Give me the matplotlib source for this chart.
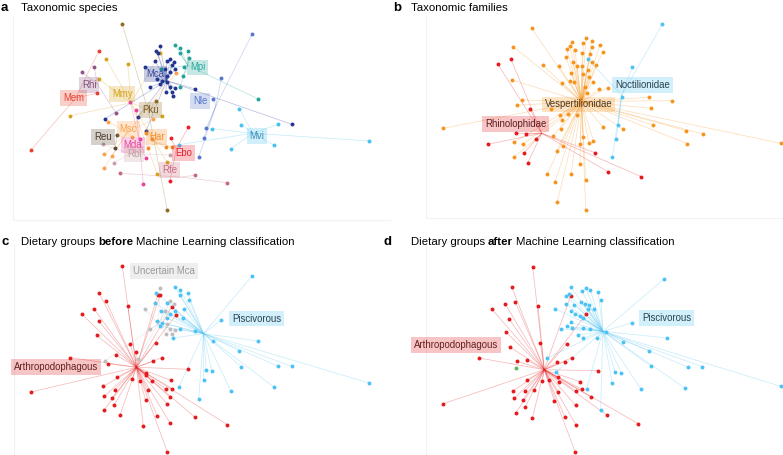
import numpy as np
import matplotlib
matplotlib.use('Agg')
import matplotlib.pyplot as plt
from matplotlib.collections import LineCollection
from matplotlib.colors import to_rgba

plt.rcParams['font.family'] = ['Liberation Sans', 'DejaVu Sans']

# ordination scores (arbitrary units, y grows downward)
# panels a and c share the same samples
a_x = [99, 31, 96.7,                                             # Mem
       81.7, 94.3, 115.7,                                        # Rhi
       106, 127.7, 99, 70.3, 161.7, 166.7, 157.3, 160,           # Mmy
       122.3, 155.7, 167.3,                                      # Pku
       160, 156.3, 157.7, 155, 145, 166.7, 170.3, 174.3, 171.7, 164.7,
       170, 175, 166.7, 156.7, 162.3, 160, 150, 167.3, 170, 175,
       171.7, 166, 173.3, 195.3, 104.7, 137.7, 146, 291.7,       # Mca
       175, 180.3, 180.3, 187.7, 189.3, 183.7, 182.7, 179.7, 160.7, 258.3,  # Mpi
       252.3, 221.3, 213.3, 206.3, 203.7, 198.7,                 # Nle
       239.3, 241, 278.3, 274.3, 230.7, 369.3, 211.7, 179,       # Mvi
       117.3, 115,                                               # Reu
       108.3, 104.3, 112, 104.3, 132, 176, 153.3,                # Msc
       145.7, 152.3, 148, 166, 172.3,                            # Har
       136, 130.3, 143.3, 139.5, 145.7,                          # Mda
       103.3, 114.3, 170,                                        # Rbl
       188.3, 170.7, 170,                                        # Ebo
       120, 195, 227.3]                                          # Rfe
a_y = [50.7, 150, 93.3,
       72, 67.3, 112.7,
       59, 63.7, 79.3, 115.7, 115.7, 161.7, 174, 53.3,
       24.3, 100.7, 210,
       46, 50.7, 52.7, 61, 67.3, 61, 59.3, 61.7, 65, 69,
       71.7, 69.3, 76, 79.3, 80.7, 84.3, 87, 81.7, 86.7, 88.3,
       91.7, 91.7, 96, 89, 119, 117.3, 131, 124.3,
       45.3, 47.7, 53.3, 51.3, 58.3, 66.7, 76, 87.3, 69, 99,
       33.7, 78, 99.3, 128.3, 138, 157.3,
       108.7, 124.7, 124.3, 145.3, 148.7, 141, 128.7, 144.7,
       135, 147.7,
       121.7, 154.3, 156, 167.7, 137.3, 73, 119.3,
       132.7, 139.3, 148, 147.3, 146.7,
       110, 102, 183.7, 139.3, 158.3,
       144.3, 162.7, 155,
       127.3, 138.3, 181,
       173.3, 175.3, 182.7]
a_species = (['Mem'] * 3 + ['Rhi'] * 3 + ['Mmy'] * 8 + ['Pku'] * 3 + ['Mca'] * 28
             + ['Mpi'] * 10 + ['Nle'] * 6 + ['Mvi'] * 8 + ['Reu'] * 2 + ['Msc'] * 7
             + ['Har'] * 5 + ['Mda'] * 5 + ['Rbl'] * 3 + ['Ebo'] * 3 + ['Rfe'] * 3)
# diet before ML: A arthropodophagous, P piscivorous, U uncertain Mca
c_diet = list('AAA' 'AAA' 'AAAAAAAA' 'AAA'
              'UPAPUPUUAUPPPPPPUUUUUUPPUUAP'
              'PPPPPPPPPP' 'PPPPPP' 'PPPPPPPP'
              'AA' 'AAAAAAA' 'AAAAA' 'AAAAA' 'AAA' 'AAA' 'AAA')

# panel b: families
b_x = [196, 201.7, 181.7, 193.3, 180, 210, 201.7, 176.7, 185, 212.7, 192.3, 200,
       176, 182.7, 186.7, 191.7, 201.7, 206, 152.7, 168.7, 197.7, 181, 193.3, 199,
       202.7, 180, 184.3, 171.7, 195.3, 217.7, 209, 196.7, 131.7, 161, 170,
       141.7, 123.3, 122.3, 127, 53.3, 124.3, 133, 124.3, 157.3, 165, 167.3, 195.7,
       181, 190, 195.7, 190.3, 193.3, 198.7, 203.3, 173.3, 166.7, 163.3, 171, 172,
       178.3, 186.7, 212.7, 233.3, 259.3, 281.7, 260.7, 262.7, 296, 313.3, 297.3, 390.7,
       107.7, 121, 140, 126, 136, 145.7, 97.7, 134.3, 137.7, 205, 218, 251.3,
       272.3, 242.3, 232, 228.3, 226.3, 222.3, 197.7]
b_y = [38.3, 41, 41.7, 43.3, 46, 45, 46.7, 49.3, 50, 51.7, 53.3, 54.3,
       57.3, 62.3, 65.7, 65.7, 61.7, 65, 65, 65.7, 70, 73.3, 74, 77.3,
       81.7, 80.7, 82.3, 82.7, 86.7, 87.7, 89.3, 92.7, 100, 109.3, 115,
       28.3, 46.7, 80, 105.3, 128.3, 142, 144, 156.7, 174, 182.3, 202, 210,
       174, 164, 180, 144, 137.3, 143.3, 140.7, 145.7, 150.7, 135.7, 128.7, 120,
       114.3, 114.7, 126.7, 129.3, 97.3, 100.7, 108.3, 125, 130.7, 134, 143.7, 143.3,
       64, 59.3, 108.7, 133.3, 134.3, 138.7, 144.3, 152.7, 163, 152.7, 171.7, 176.7,
       24.3, 67, 96.5, 124.7, 138.7, 157.3, 59]
b_family = ['V'] * 71 + ['R'] * 12 + ['N'] * 7

# panel d: diet after ML
d_x = [142.7, 121.7, 125.3, 101.7, 115.3, 148, 119.3, 116, 150.3, 120, 89.3, 126.7,
       137.3, 176.7, 167.3, 175, 181.7, 207.7, 137.3, 152.3, 159.3, 167.7, 169, 190,
       123.3, 135, 144.3, 168.3, 186, 191.7, 124, 132.7, 201, 164.3, 135, 126,
       142.3, 185.7, 175, 186, 216.7, 248.3, 185.3, 53.3, 180.7, 196,
       274.3, 181, 176, 178.7, 191.7, 196, 200.3, 208.3, 211, 176.3, 184.3, 190.7,
       195, 199.3, 165, 181, 185, 190, 198, 203.7, 193.3, 170.7, 177.3, 181.7,
       192.7, 200, 187.7, 193.3, 207.3, 216, 241.7, 277.3, 233.3, 259, 261, 298.3,
       312.3, 225.3, 231, 222.3, 251, 295, 390.7, 196.7, 210.7, 157.3, 165.7, 181,
       125.7]
d_y = [39.3, 59, 74, 81, 76, 77.7, 91.3, 104, 115.3, 119, 130, 133.3,
       132.3, 116, 134.3, 133.7, 129.7, 142.7, 152, 153, 152, 149.3, 154.3, 153.7,
       162.7, 163, 162, 163.7, 163, 161.3, 170.3, 172, 168.7, 172.7, 179.3, 184.7,
       190.3, 177.3, 189.3, 197, 187, 195.7, 224.3, 175.7, 67.7, 86.3,
       50.7, 59.3, 67.7, 66, 62.7, 60, 61.7, 64.3, 71.7, 76, 76.7, 74,
       76, 77.3, 80.7, 83.3, 86, 88.3, 81, 81, 90, 101, 98, 100,
       100, 101, 107, 110, 110, 104, 95, 110, 114.3, 122.7, 138.3, 139.3,
       138.7, 144.3, 144.7, 155.3, 161.3, 160, 158.3, 160.7, 181.7, 130, 144.3, 94.3,
       140]
d_diet = ['A'] * 46 + ['P'] * 48 + ['G']

# colours
sp_col = {'Mem': '#e8412f', 'Rhi': '#8e5585', 'Mmy': '#d8a31a', 'Pku': '#8f6a22',
          'Mca': '#233591', 'Mpi': '#22a398', 'Nle': '#5677cc', 'Mvi': '#47c1f2',
          'Reu': '#5d4630', 'Msc': '#f9a24a', 'Har': '#f58a22', 'Mda': '#e8449a',
          'Rbl': '#c8a0a6', 'Ebo': '#e8202a', 'Rfe': '#c86a7c'}
sp_txt = dict(sp_col, Mca='#3b4aa0', Mvi='#3f8fae', Rbl='#c0a0a0', Rhi='#84507a',
              Reu='#4b3a2a', Pku='#7e5d1e', Mpi='#2aa89c')
sp_nudge = {'Mem': (-2, 0), 'Rhi': (-8, 1), 'Mmy': (-9, -9), 'Pku': (2, -2),
            'Mca': (-11, -7), 'Mpi': (10, 2), 'Nle': (-16, -5), 'Mvi': (4, 3),
            'Reu': (-13, -4), 'Msc': (1, -4), 'Har': (0, -6), 'Mda': (-6, 6),
            'Rbl': (5, 0), 'Ebo': (7, 4), 'Rfe': (-11, -7)}

fam_col = {'V': '#f7941e', 'R': '#e41a1c', 'N': '#4cc3f4'}
fam_txt = {'V': '#4d3b25', 'R': '#5c1c1c', 'N': '#2a4250'}
fam_name = {'V': 'Vespertilionidae', 'R': 'Rhinolophidae', 'N': 'Noctilionidae'}
fam_nudge = {'V': (-3, 3), 'R': (-26, -9), 'N': (21, -10)}

diet_col = {'A': '#e41a1c', 'P': '#4cc3f4', 'U': '#bdbdbd', 'G': '#5cb85c'}
diet_txt = {'A': '#652020', 'P': '#2a4250', 'U': '#9a9a9a', 'G': '#3a7a3a'}
diet_name = {'A': 'Arthropodophagous', 'P': 'Piscivorous', 'U': 'Uncertain Mca', 'G': ''}
c_nudge = {'A': (-80, 0), 'P': (53, -15), 'U': (6, -53)}
d_nudge = {'A': (-88, -25), 'P': (64, -13)}

W, H = 783, 455
fig = plt.figure(figsize=(W / 100, H / 100), dpi=100)


def panel(x0, y0, x1, y1, xlim, ylim):
    ax = fig.add_axes([x0 / W, 1 - y1 / H, (x1 - x0) / W, (y1 - y0) / H])
    ax.set_xlim(*xlim)
    ax.set_ylim(*ylim)
    ax.set_xticks([])
    ax.set_yticks([])
    ax.spines['top'].set_visible(False)
    ax.spines['right'].set_visible(False)
    for s in ['left', 'bottom']:
        ax.spines[s].set_color('#f2f2f2')
        ax.spines[s].set_linewidth(0.8)
    ax.patch.set_alpha(0)
    return ax


def spider(ax, xs, ys, groups, colors, txtcolors, names, nudge):
    xs, ys, groups = np.asarray(xs), np.asarray(ys), np.asarray(groups)
    order = list(dict.fromkeys(groups))
    cents = {}
    for g in order:
        m = groups == g
        cx, cy = xs[m].mean(), ys[m].mean()
        cents[g] = (cx, cy)
        segs = [[(cx, cy), (x, y)] for x, y in zip(xs[m], ys[m])]
        ax.add_collection(LineCollection(segs, colors=colors[g], linewidths=0.55,
                                         alpha=0.3, zorder=1))
    for g in order:
        m = groups == g
        ax.scatter(xs[m], ys[m], s=8, color=colors[g], lw=0, zorder=2, clip_on=False)
    for g in order:
        if not names[g]:
            continue
        cx, cy = cents[g]
        dx, dy = nudge.get(g, (0, 0))
        ax.text(cx + dx, cy + dy, names[g], ha='center', va='center', fontsize=6.9,
                color=txtcolors[g], zorder=4,
                bbox=dict(boxstyle='square,pad=0.3', fc=to_rgba(colors[g], 0.25), ec='none'))


ax_a = panel(13, 17, 390, 220, (13, 390), (220, 17))
spider(ax_a, a_x, a_y, a_species, sp_col, sp_txt, {k: k for k in sp_col}, sp_nudge)

ax_b = panel(426, 17, 783, 218, (36, 393), (218, 17))
spider(ax_b, b_x, b_y, b_family, fam_col, fam_txt, fam_name, fam_nudge)

ax_c = panel(14, 245, 390, 455, (14, 390), (213, 3))
spider(ax_c, a_x, a_y, c_diet, diet_col, diet_txt, diet_name, c_nudge)

ax_d = panel(426, 245, 783, 455, (36, 393), (227, 17))
spider(ax_d, d_x, d_y, d_diet, diet_col, diet_txt, diet_name, d_nudge)

# panel titles
renderer = fig.canvas.get_renderer()
fs = 8.2
space = 0.278 * fs * 100 / 72


def title(lx, x, y, letter, parts):
    fig.text(lx / W, 1 - y / H, letter, fontsize=9.5, fontweight='bold', va='baseline')
    for txt, wt in parts:
        t = fig.text(x / W, 1 - y / H, txt, fontsize=fs, fontweight=wt, va='baseline')
        x += t.get_window_extent(renderer).width + space


title(1, 20.7, 10.7, 'a', [('Taxonomic species', 'normal')])
title(393, 410.7, 10.7, 'b', [('Taxonomic families', 'normal')])
title(1.5, 20.7, 244.7, 'c', [('Dietary groups', 'normal'), ('before', 'bold'),
                               ('Machine Learning classification', 'normal')])
title(383.5, 410.7, 244.7, 'd', [('Dietary groups', 'normal'), ('after', 'bold'),
                                  ('Machine Learning classification', 'normal')])

fig.savefig('out.png', dpi=100)
